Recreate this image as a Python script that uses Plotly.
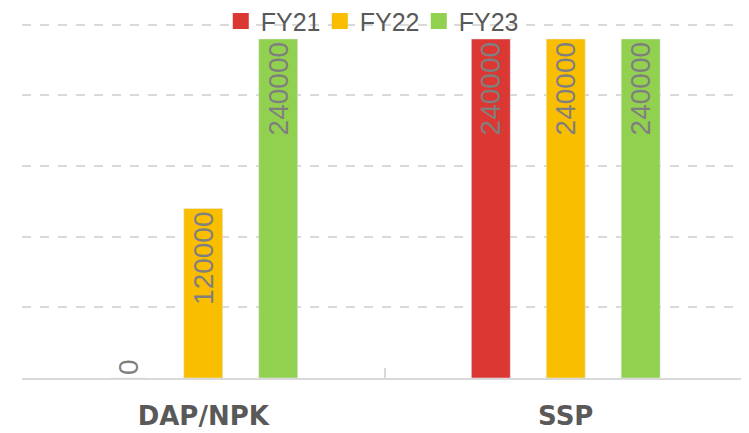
import plotly.graph_objects as go

categories = ["DAP/NPK", "SSP"]
series = ["FY21", "FY22", "FY23"]
fy21 = [0, 240000]
fy22 = [120000, 240000]
fy23 = [240000, 240000]
colors = ["#DC3833", "#F9BE00", "#92D050"]

font_name = "Liberation Sans, Arial, sans-serif"

fig = go.Figure()
for name, vals, col in zip(series, [fy21, fy22, fy23], colors):
    # zero bars get their label outside, like the source
    pos = ["outside" if v == 0 else "inside" for v in vals]
    fig.add_trace(go.Bar(
        x=categories, y=vals, name=name, marker_color=col, showlegend=False,
        text=[str(v) for v in vals], textposition=pos,
        insidetextanchor="end", textangle=-90, constraintext="none",
        textfont=dict(family=font_name, size=28, color="#7F7F7F"),
        cliponaxis=False,
    ))
    # legend entry with a bigger square swatch
    fig.add_trace(go.Scatter(
        x=[None], y=[None], name=name, mode="markers",
        marker=dict(symbol="square", size=18, color=col),
    ))

# page body has an 8px margin, so the figure is a bit smaller than the window
fig.update_layout(
    width=741, height=425,
    margin=dict(l=14, r=2, t=14, b=55, autoexpand=False),
    paper_bgcolor="white", plot_bgcolor="white",
    barmode="group", bargap=0.38, bargroupgap=0.48,
    font=dict(family=font_name, color="#595959"),
    legend=dict(orientation="h", x=0.479, xanchor="center", y=0.969, yref="container",
                yanchor="middle", font=dict(size=25, color="#595959"),
                bgcolor="rgba(0,0,0,0)", itemwidth=30, tracegroupgap=0,
                entrywidth=54, entrywidthmode="pixels"),
)
fig.update_xaxes(
    showline=True, linecolor="#D9D9D9", linewidth=2,
    ticks="inside", tickson="boundaries", ticklen=10, tickcolor="#D9D9D9", tickwidth=2,
    tickfont=dict(family="DejaVu Sans, sans-serif", size=26, color="#595959", weight="bold"),
    ticklabelstandoff=14, showgrid=False,
)
fig.update_yaxes(
    range=[0, 252000], dtick=50000, showticklabels=False,
    showgrid=True, gridcolor="#D9D9D9", gridwidth=2, griddash="dash",
    zeroline=False, showline=False,
)

fig.write_html("out.html")
